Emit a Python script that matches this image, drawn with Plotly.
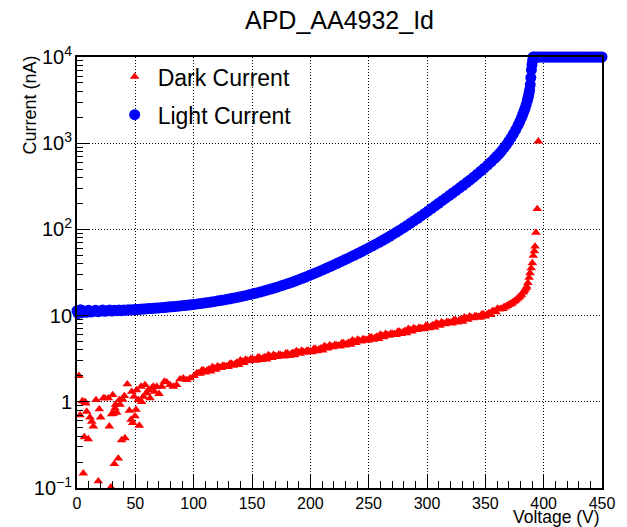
import plotly.graph_objects as go

# ---- Dark current (red triangles): bias voltage [V] and current [nA] ----
dark_v = [
    1.7, 2.6, 4.6, 5.4, 6.3, 6.9, 7.4, 8.3, 9.7, 11.1, 12.6, 14.0, 16.3, 18.3, 19.1, 20.3,
    22.6, 24.0, 26.9, 27.7, 29.1, 29.7, 30.6, 31.1, 32.0, 32.6, 33.0, 34.0, 35.4, 36.3,
    36.9, 38.3, 39.1, 40.6, 41.1, 43.1, 44.9, 46.3, 46.9, 47.7, 48.9, 49.7, 50.6, 51.1,
    52.6, 53.4, 54.9, 55.4, 56.9, 58.3, 59.7, 61.1, 62.6, 64.0, 65.4, 66.4, 68.3, 70.3,
    72.6, 74.9, 76.9, 79.7, 82.6, 85.4, 88.3, 91.1, 94.0, 96.9, 100.3, 102.6,
    104, 107, 110, 113, 116, 119, 122, 125, 128, 131, 134, 137, 140, 143, 146, 149,
    152, 155, 158, 161, 164, 167, 170, 173, 176, 179, 182, 185, 188, 191, 194, 197,
    200, 203, 206, 209, 212, 215, 218, 221, 224, 227, 230, 233, 236, 239, 242, 245,
    248, 251, 254, 257, 260, 263, 266, 269, 272, 275, 278, 281, 284, 287, 290, 293,
    296, 299, 302, 305, 308, 311, 314, 317, 320, 323, 326, 329, 332, 335, 338, 341,
    344, 347, 350, 353, 356, 359, 362, 365, 367, 369, 371, 373, 375, 377, 379, 381,
    382.5, 384, 385.5, 386.5, 387.5, 388.3, 389.3, 390.3, 391.1, 392.0, 392.6, 393.4,
    394.5, 395.4,
    396, 398, 400, 402, 404, 406, 408, 410, 412, 414, 416, 418, 420, 422, 424, 426,
    428, 430, 432, 434, 436, 438, 440, 442, 444, 446, 448, 450,
    105.5, 108.5, 111.5, 114.5, 117.5, 120.5, 123.5, 126.5, 129.5, 132.5, 135.5, 138.5,
    141.5, 144.5, 147.5, 150.5, 153.5, 156.5, 159.5, 162.5, 165.5, 168.5, 171.5, 174.5,
    177.5, 180.5, 183.5, 186.5, 189.5, 192.5, 195.5, 198.5, 201.5, 204.5, 207.5, 210.5,
    213.5, 216.5, 219.5, 222.5, 225.5, 228.5, 231.5, 234.5, 237.5, 240.5, 243.5, 246.5,
    249.5, 252.5, 255.5, 258.5, 261.5, 264.5, 267.5, 270.5, 273.5, 276.5, 279.5, 282.5,
    285.5, 288.5, 291.5, 294.5, 297.5, 300.5, 303.5, 306.5, 309.5, 312.5, 315.5, 318.5,
    321.5, 324.5, 327.5, 330.5, 333.5, 336.5, 339.5, 342.5, 345.5, 348.5, 351.5, 354.5,
    357.5, 360.5, 363.5, 366, 368, 370, 372, 374, 376, 378, 380, 383, 385,
]
dark_i = [
    2.0, 0.70, 1.02, 0.148, 0.39, 1.0, 0.96, 0.77, 0.37, 0.66, 0.59, 0.52, 1.05, 0.12, 0.82, 0.66,
    1.10, 1.10, 1.10, 0.52, 0.102, 0.72, 1.20, 0.73, 0.19, 0.84, 0.93, 0.75, 0.22, 1.05,
    0.93, 0.36, 1.07, 1.17, 0.38, 1.60, 0.79, 0.62, 1.31, 0.57, 1.15, 0.68, 0.81, 1.37,
    1.05, 0.53, 1.50, 1.00, 1.15, 1.57, 1.26, 1.37, 1.10, 1.44, 1.50, 1.31, 1.50, 1.24,
    1.50, 1.72, 1.69, 1.57, 1.50, 1.57, 1.83, 1.88, 1.80, 1.88, 2.0, 2.15,
    2.16, 2.32, 2.19, 2.38, 2.54, 2.37, 2.52, 2.63, 2.59, 2.77, 2.62, 2.85, 3.03, 2.83, 3.02, 3.15,
    3.08, 3.28, 3.07, 3.31, 3.48, 3.23, 3.41, 3.53, 3.44, 3.65, 3.42, 3.70, 3.89, 3.62, 3.81, 3.94,
    3.85, 4.12, 3.88, 4.19, 4.44, 4.16, 4.41, 4.58, 4.49, 4.80, 4.52, 4.89, 5.18, 4.84, 5.13, 5.34,
    5.23, 5.60, 5.27, 5.71, 6.05, 5.64, 5.99, 6.22, 6.10, 6.52, 6.15, 6.65, 7.04, 6.58, 6.98, 7.25,
    7.11, 7.60, 7.17, 7.76, 8.23, 7.67, 8.14, 8.48, 8.30, 8.89, 8.37, 9.07, 9.60, 8.98, 9.52, 9.89,
    9.70, 10.4, 9.80, 10.7, 11.3, 11.0, 11.8, 12.0, 12.5, 13.0, 13.5, 14.0, 14.7, 15.5, 16.4, 17.5,
    18.6, 20.0, 21.8, 24.0, 27.5, 31.2, 35.5, 40.7, 49.5, 56.0, 63.5, 92.0,
    173.0, 1050.0,
    10000, 10000, 10000, 10000, 10000, 10000, 10000, 10000, 10000, 10000, 10000, 10000,
    10000, 10000, 10000, 10000, 10000, 10000, 10000, 10000, 10000, 10000, 10000, 10000,
    10000, 10000, 10000, 10000,
    2.12, 2.32, 2.31, 2.25, 2.47, 2.59, 2.48, 2.61, 2.54, 2.78, 2.76, 2.69,
    2.95, 3.10, 2.97, 3.12, 3.01, 3.27, 3.22, 3.10, 3.37, 3.52, 3.33, 3.48,
    3.36, 3.65, 3.60, 3.47, 3.77, 3.94, 3.73, 3.90, 3.77, 4.12, 4.08, 3.95,
    4.32, 4.54, 4.32, 4.53, 4.39, 4.80, 4.75, 4.60, 5.04, 5.28, 5.03, 5.28,
    5.12, 5.60, 5.54, 5.37, 5.87, 6.16, 5.87, 6.16, 5.97, 6.53, 6.46, 6.26,
    6.84, 7.18, 6.84, 7.18, 6.96, 7.61, 7.53, 7.31, 7.99, 8.38, 7.98, 8.39,
    8.13, 8.89, 8.81, 8.53, 9.34, 9.80, 9.33, 9.80, 9.50, 10.4, 10.35, 10.2,
    11.3, 12.1, 12.1, 12.6, 12.9, 13.4, 13.8, 14.5, 15.0, 16.0, 17.0, 19.2, 21.0,
]

# ---- Light current (blue circles): bias voltage [V] and current [nA] ----
light_v = [
    0, 1, 2, 3, 4, 6, 8, 10, 12, 14, 16, 18, 20, 22, 24, 26, 28, 30, 32, 34, 36, 38, 40,
    42, 44, 46, 48, 50, 52, 54, 56, 58, 60, 62, 64, 66, 68, 70, 72, 74, 76, 78, 80, 82,
    84, 86, 88, 90, 92, 94, 96, 98, 100,
    103, 106, 109, 112, 115, 118, 121, 124, 127, 130, 133, 136, 139, 142, 145, 148,
    151, 154, 157, 160, 163, 166, 169, 172, 175, 178, 181, 184, 187, 190, 193, 196, 199,
    202, 205, 208, 211, 214, 217, 220, 223, 226, 229, 232, 235, 238, 241, 244, 247, 250,
    253, 256, 259, 262, 265, 268, 271, 274, 277, 280, 283, 286, 289, 292, 295, 298, 301,
    304, 307, 310, 313, 316, 319, 322, 325, 328, 331, 334, 337, 340, 343, 346, 349, 352,
    355, 358, 360, 362, 364, 366, 368, 370, 372, 374, 376, 378, 379.5, 381, 382, 383, 384,
    385, 386, 386.5, 387, 387.5, 388, 388.5, 389, 389.5, 390, 390.5,
    391, 392, 394, 396, 398, 400, 402, 404, 406, 408, 410, 412, 414, 416, 418, 420, 422,
    424, 426, 428, 430, 432, 434, 436, 438, 440, 442, 444, 446, 448, 450,
]
light_i = [
    11.4, 10.6, 11.0, 11.7, 10.8, 11.3, 10.9, 11.5, 11.0, 11.2, 11.5, 11.1, 11.3, 11.6, 11.2,
    11.4, 11.6, 11.3, 11.5, 11.4, 11.6, 11.4, 11.6, 11.5, 11.7, 11.6, 11.7,
    11.75, 11.80, 11.85, 11.90, 11.95, 12.0, 12.05, 12.11, 12.17, 12.22, 12.28, 12.35, 12.42,
    12.48, 12.55, 12.63, 12.70, 12.78, 12.86, 12.94, 13.03, 13.12, 13.21, 13.30, 13.39, 13.49,
    13.64, 13.81, 13.99, 14.17, 14.38, 14.59, 14.82, 15.06, 15.31, 15.58, 15.86, 16.16, 16.47,
    16.81, 17.16, 17.53,
    17.92, 18.34, 18.78, 19.25, 19.75, 20.29, 20.87, 21.48, 22.13, 22.83, 23.57, 24.35, 25.19,
    26.08, 27.04, 28.05, 29.13,
    30.28, 31.50, 32.78, 34.14, 35.57, 37.09, 38.69, 40.38, 42.17, 44.07, 46.08, 48.21, 50.47,
    52.86, 55.41, 58.10, 60.95,
    64.0, 67.3, 70.8, 74.6, 78.8, 83.2, 88.0, 93.1, 98.7, 104.8, 111.3, 118.4, 126.1, 134.4,
    143.5, 153.3, 163.9,
    175.5, 187.8, 201.1, 215.3, 230.5, 246.9, 264.4, 283.2, 303.4, 325.1, 349.0, 375.4, 404.6,
    437.0, 473.0, 513.0, 557.7,
    608.5, 666.5, 709.6, 758.4, 815.2, 881.0, 957.6, 1047.0, 1153.0, 1279.0, 1431.0, 1614.0,
    1780.0, 1982.0, 2140.0, 2321.0, 2534.0,
    2798.0, 3124.0, 3327.0, 3548.0, 3846.0, 4169.0, 4786.0, 5754.0, 7079.0, 8128.0, 9120.0,
    10000, 10000, 10000, 10000, 10000, 10000, 10000, 10000, 10000, 10000, 10000, 10000, 10000,
    10000, 10000, 10000, 10000, 10000, 10000, 10000, 10000, 10000, 10000, 10000, 10000, 10000,
    10000, 10000, 10000, 10000, 10000,
]

FONT = "Liberation Sans, Arial, Helvetica, sans-serif"

fig = go.Figure()

fig.add_trace(go.Scatter(
    x=dark_v, y=dark_i, mode="markers", name="Dark Current",
    legendgroup="dark",
    marker=dict(symbol="triangle-up", size=8.5, color="#ff0000", line=dict(width=0)),
    cliponaxis=False,
))
fig.add_trace(go.Scatter(
    x=light_v, y=light_i, mode="markers", name="Light Current",
    legendgroup="light",
    marker=dict(symbol="circle", size=11, color="#0000ff", line=dict(width=0)),
    cliponaxis=False,
))

axis_common = dict(
    showline=True, linecolor="black", linewidth=1.5, mirror=True,
    ticks="inside", tickcolor="black", tickwidth=1,
    showgrid=True, gridcolor="black", gridwidth=1, griddash="1px,2px",
    zeroline=False,
    tickfont=dict(family=FONT, size=16, color="black"),
)

fig.update_layout(
    width=627, height=527,
    margin=dict(l=77, r=25, t=57, b=39),
    paper_bgcolor="white", plot_bgcolor="white",
    font=dict(family=FONT, color="black"),
    title=dict(
        text="APD_AA4932_Id", font=dict(family=FONT, size=25, color="black"),
        x=0.5, xref="paper", xanchor="center",
        y=0.962, yref="container", yanchor="middle",
    ),
    xaxis=dict(
        range=[0, 450], tick0=0, dtick=50, ticklen=13,
        minor=dict(ticks="inside", ticklen=7, dtick=10, tickcolor="black", showgrid=False),
        **axis_common,
    ),
    yaxis=dict(
        type="log", range=[-1, 4], tick0=0, dtick=1, exponentformat="power", ticklen=12,
        minor=dict(ticks="inside", ticklen=6, dtick="D1", tickcolor="black", showgrid=False),
        **axis_common,
    ),
    legend=dict(
        x=0.066, y=1.004, xanchor="left", yanchor="top",
        bgcolor="rgba(0,0,0,0)", borderwidth=0,
        font=dict(family=FONT, size=23, color="black"),
        traceorder="grouped", tracegroupgap=5, itemwidth=36,
    ),
    annotations=[
        dict(text="Voltage (V)", xref="paper", yref="paper", x=1.0, y=-0.068,
             xanchor="right", yanchor="middle", showarrow=False,
             font=dict(family=FONT, size=17.5, color="black")),
        dict(text="Current (nA)", xref="paper", yref="paper", x=-0.0895, y=1.007,
             xanchor="center", yanchor="top", textangle=-90, showarrow=False,
             font=dict(family=FONT, size=18, color="black")),
    ],
)

fig.write_html("out.html")
